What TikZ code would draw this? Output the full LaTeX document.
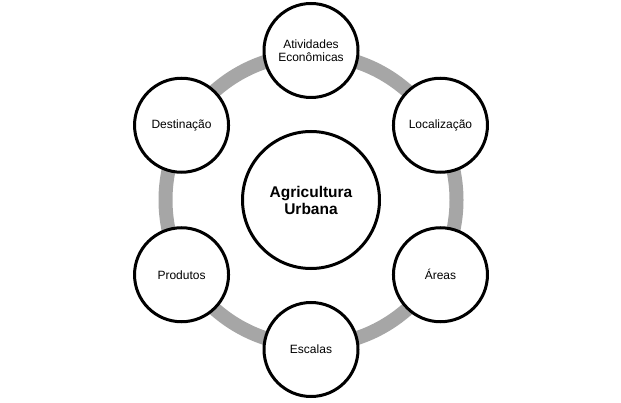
\documentclass[tikz,border=0pt]{standalone}
\usepackage{fontspec}
\setmainfont{Liberation Sans}
\begin{document}
\begin{tikzpicture}[x=1pt,y=1pt,
  outer/.style={circle,draw=black,fill=white,line width=3pt,minimum size=94pt,inner sep=0pt,align=center,font=\fontsize{12}{13}\selectfont},
  hub/.style={circle,draw=black,fill=white,line width=3pt,minimum size=137pt,inner sep=0pt,align=center,font=\fontsize{15.5}{17}\selectfont\bfseries},
  ring/.style={draw=black!35,line width=14pt}]
\useasboundingbox[fill=white] (0,0) rectangle (621,402);
\coordinate (c) at (311,202);
\draw[ring] (c) circle[radius=145.5];
\node[hub] (hub) at (c) {Agricultura\\Urbana};
\node[outer] (ativ) at ([shift={(90:149.5)}]c) {Atividades\\Econômicas};
\node[outer] (loc) at ([shift={(30:149.5)}]c) {Localização};
\node[outer] (areas) at ([shift={(-30:149.5)}]c) {Áreas};
\node[outer] (esc) at ([shift={(-90:149.5)}]c) {Escalas};
\node[outer] (prod) at ([shift={(-150:149.5)}]c) {Produtos};
\node[outer] (dest) at ([shift={(150:149.5)}]c) {Destinação};
\end{tikzpicture}
\end{document}
